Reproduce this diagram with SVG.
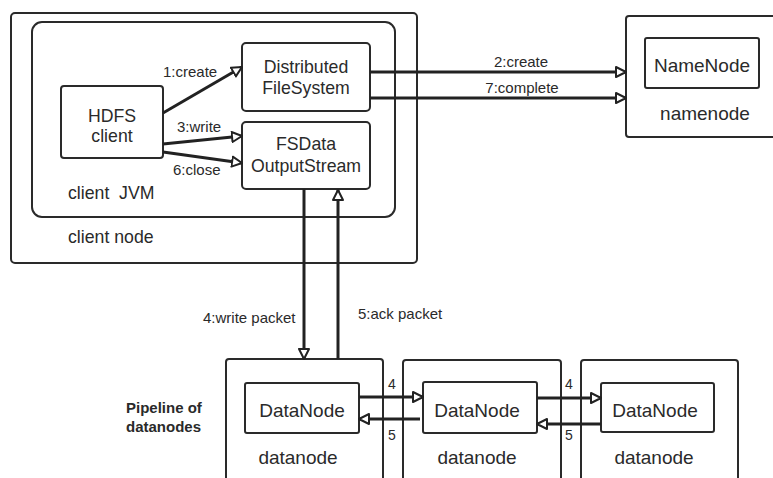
<svg xmlns="http://www.w3.org/2000/svg" width="773" height="478" viewBox="0 0 773 478">
<style>
.box{fill:#fff;stroke:#2a2a2a;stroke-width:2}
.t{font-family:"Liberation Sans",Arial,sans-serif;fill:#2a2a2a}
.big{font-size:19px}
.mid{font-size:17.7px}
.lbl{font-size:15px}
.num{font-size:14px}
.c{text-anchor:middle}
.conn{fill:none;stroke:#222;stroke-width:3}
</style>
<defs>
<marker id="arr" markerUnits="userSpaceOnUse" markerWidth="14" markerHeight="14" refX="11" refY="6" orient="auto" viewBox="0 0 14 12">
<path d="M1,1 L11,6 L1,11 Z" fill="#fff" stroke="#222" stroke-width="2" stroke-linejoin="round"/>
</marker>
</defs>
<rect width="773" height="478" fill="#fff"/>
<g id="client-node">
<rect class="box" x="11" y="13" width="406" height="250" rx="4"/>
<text class="t mid" x="68" y="243">client node</text>
</g>
<g id="client-jvm">
<rect class="box" x="32" y="22" width="363" height="195" rx="10"/>
<text class="t mid" x="68" y="199" xml:space="preserve">client  JVM</text>
</g>
<g id="hdfs-client">
<rect class="box" x="61" y="86" width="102" height="72" rx="3"/>
<text class="t mid c" x="112" y="122">HDFS</text>
<text class="t mid c" x="112" y="142">client</text>
</g>
<g id="distributed-fs">
<rect class="box" x="242" y="43" width="128" height="68" rx="4"/>
<text class="t mid c" x="306" y="73">Distributed</text>
<text class="t mid c" x="306" y="94">FileSystem</text>
</g>
<g id="fsdata-output">
<rect class="box" x="242" y="122" width="128" height="67" rx="4"/>
<text class="t mid c" x="306" y="150">FSData</text>
<text class="t mid c" x="306" y="172">OutputStream</text>
</g>
<g id="namenode-host">
<rect class="box" x="626" y="16" width="160" height="121" rx="3"/>
<text class="t big c" x="705" y="120">namenode</text>
</g>
<g id="namenode">
<rect class="box" x="645" y="38" width="114" height="50" rx="2"/>
<text class="t big c" x="702" y="72">NameNode</text>
</g>
<g id="datanode-host-1">
<rect class="box" x="226" y="359" width="157" height="140" rx="3"/>
<text class="t big c" x="298" y="464">datanode</text>
</g>
<g id="datanode-1">
<rect class="box" x="245" y="383" width="114" height="50" rx="2"/>
<text class="t big c" x="302" y="417">DataNode</text>
</g>
<g id="datanode-host-2">
<rect class="box" x="403" y="360" width="158" height="140" rx="3"/>
<text class="t big c" x="477" y="464">datanode</text>
</g>
<g id="datanode-2">
<rect class="box" x="423" y="382" width="114" height="51" rx="2"/>
<text class="t big c" x="477" y="417">DataNode</text>
</g>
<g id="datanode-host-3">
<rect class="box" x="581" y="360" width="157" height="140" rx="3"/>
<text class="t big c" x="654" y="464">datanode</text>
</g>
<g id="datanode-3">
<rect class="box" x="601" y="383" width="113" height="49" rx="2"/>
<text class="t big c" x="655" y="417">DataNode</text>
</g>
<g id="pipeline-label">
<text class="t lbl" font-weight="bold" x="126" y="413">Pipeline of</text>
<text class="t lbl" font-weight="bold" x="126" y="432">datanodes</text>
</g>
<g id="connectors">
<line class="conn" x1="163" y1="113" x2="242" y2="67" marker-end="url(#arr)"/>
<line class="conn" x1="163" y1="144" x2="242" y2="136" marker-end="url(#arr)"/>
<line class="conn" x1="163" y1="152" x2="242" y2="163" marker-end="url(#arr)"/>
<line class="conn" x1="370" y1="72" x2="626" y2="72" marker-end="url(#arr)"/>
<line class="conn" x1="370" y1="98" x2="626" y2="98" marker-end="url(#arr)"/>
<line class="conn" x1="304" y1="189" x2="304" y2="359" marker-end="url(#arr)"/>
<line class="conn" x1="338" y1="359" x2="338" y2="190" marker-end="url(#arr)"/>
<line class="conn" x1="359" y1="397" x2="423" y2="397" marker-end="url(#arr)"/>
<line class="conn" x1="420" y1="419" x2="359" y2="419" marker-end="url(#arr)"/>
<line class="conn" x1="537" y1="398" x2="601" y2="398" marker-end="url(#arr)"/>
<line class="conn" x1="601" y1="424" x2="537" y2="424" marker-end="url(#arr)"/>
<text class="t lbl" x="163" y="77">1:create</text>
<text class="t lbl" x="177" y="132">3:write</text>
<text class="t lbl" x="173" y="175">6:close</text>
<text class="t lbl c" x="521" y="67">2:create</text>
<text class="t lbl c" x="522" y="93">7:complete</text>
<text class="t lbl" x="203" y="323">4:write packet</text>
<text class="t lbl" x="358" y="319">5:ack packet</text>
<text class="t num" x="388" y="389">4</text>
<text class="t num" x="388" y="440">5</text>
<text class="t num" x="565" y="389">4</text>
<text class="t num" x="565" y="440">5</text>
</g>
</svg>
